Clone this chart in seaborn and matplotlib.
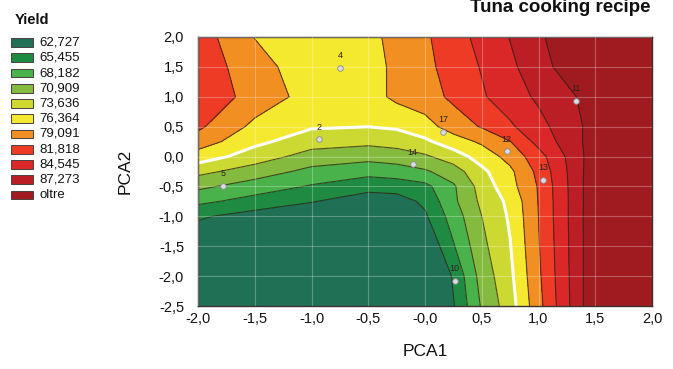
import numpy as np
import pandas as pd
import matplotlib
matplotlib.use("Agg")
import matplotlib.pyplot as plt
from matplotlib.patches import Rectangle
import seaborn as sns

# ---------------- data ----------------
pca1_grid = [-2.0, -1.5, -1.0, -0.5, -0.25, 0.0, 0.25, 0.5, 0.75, 1.0, 1.5, 2.0]
pca2_grid = [-2.5, -2.0, -1.5, -1.0, -0.75, -0.5, -0.25, 0.0, 0.25, 0.5, 1.0, 1.5, 2.0]

# yield read at grid nodes (one list per PCA2 row, PCA1 from -2 to 2)
yield_pca2_m2_50 = [59.0, 58.5, 58.0, 57.0, 57.0, 57.0, 62.5, 68.5, 72.4, 78.2, 89.7, 91.0]
yield_pca2_m2_00 = [59.5, 59.0, 58.5, 57.5, 57.5, 57.6, 63.1, 69.3, 73.0, 78.6, 89.6, 91.0]
yield_pca2_m1_50 = [60.5, 60.0, 59.0, 58.0, 58.5, 60.0, 65.2, 70.2, 73.5, 78.9, 89.5, 91.0]
yield_pca2_m1_00 = [63.1, 61.6, 60.5, 59.0, 60.0, 62.3, 66.7, 70.9, 74.0, 79.1, 89.5, 91.0]
yield_pca2_m0_75 = [66.1, 64.4, 62.9, 61.2, 61.4, 63.3, 67.6, 71.5, 74.3, 79.2, 89.4, 91.0]
yield_pca2_m0_50 = [68.8, 66.9, 65.2, 63.7, 64.0, 64.7, 67.8, 72.0, 75.4, 79.3, 89.4, 91.0]
yield_pca2_m0_25 = [71.7, 69.6, 67.4, 66.4, 66.8, 67.8, 69.6, 73.0, 75.8, 79.8, 89.2, 91.0]
yield_pca2_0_00 = [75.1, 72.3, 69.8, 69.1, 69.6, 70.5, 72.3, 74.8, 77.3, 80.7, 88.9, 91.0]
yield_pca2_0_25 = [77.8, 74.3, 72.1, 71.6, 72.0, 73.1, 75.1, 76.8, 79.0, 82.7, 88.6, 90.5]
yield_pca2_0_50 = [79.6, 75.7, 73.9, 73.65, 74.0, 75.3, 77.6, 79.3, 81.4, 83.65, 88.3, 90.5]
yield_pca2_1_00 = [81.2, 78.0, 75.3, 75.2, 77.0, 77.9, 79.65, 81.5, 83.3, 85.0, 88.4, 91.0]
yield_pca2_1_50 = [81.0, 77.3, 75.0, 75.4, 76.9, 78.4, 80.2, 82.0, 84.0, 86.1, 90.7, 91.5]
yield_pca2_2_00 = [80.5, 76.3, 75.0, 75.6, 77.2, 78.7, 80.6, 82.7, 84.65, 86.9, 90.2, 91.5]

level_bounds = [62.727, 65.455, 68.182, 70.909, 73.636, 76.364,
                79.091, 81.818, 84.545, 87.273]
legend_labels = ["62,727", "65,455", "68,182", "70,909", "73,636", "76,364",
                 "79,091", "81,818", "84,545", "87,273", "oltre"]
band_colors = ["#1f7055", "#1f8a42", "#4ab24a", "#84bb3e", "#cdd933",
               "#f5e92f", "#f28f22", "#ed3b26", "#da2828", "#bb1f25", "#a01b1f"]
white_level = 73.636

design_pca1 = [-0.75, -0.93, -1.78, -0.11, 0.16, 0.72, 1.04, 1.33, 0.26]
design_pca2 = [1.48, 0.29, -0.49, -0.13, 0.41, 0.09, -0.39, 0.93, -2.08]
design_labels = ["4", "2", "5", "14", "17", "12", "13", "11", "10"]

xtick_vals = [-2.0, -1.5, -1.0, -0.5, 0.0, 0.5, 1.0, 1.5, 2.0]
xtick_labels = ["-2,0", "-1,5", "-1,0", "-0,5", "-0,0", "0,5", "1,0", "1,5", "2,0"]
ytick_vals = [-2.5, -2.0, -1.5, -1.0, -0.5, 0.0, 0.5, 1.0, 1.5, 2.0]
ytick_labels = ["-2,5", "-2,0", "-1,5", "-1,0", "-0,5", "0,0", "0,5", "1,0", "1,5", "2,0"]

title = "Tuna cooking recipe"
legend_title = "Yield"
xlabel = "PCA1"
ylabel = "PCA2"

# ---------------- figure ----------------
sns.set_theme(style="white")
plt.rcParams["font.family"] = ["Liberation Sans", "DejaVu Sans"]

W, H = 673, 369
fig = plt.figure(figsize=(W / 100, H / 100), dpi=100)
fig.patch.set_facecolor("white")

L, R, T, B = 198, 652, 37, 306
ax = fig.add_axes([L / W, 1 - B / H, (R - L) / W, (B - T) / H])

Z = np.array([yield_pca2_m2_50, yield_pca2_m2_00, yield_pca2_m1_50, yield_pca2_m1_00,
              yield_pca2_m0_75, yield_pca2_m0_50, yield_pca2_m0_25, yield_pca2_0_00,
              yield_pca2_0_25, yield_pca2_0_50, yield_pca2_1_00, yield_pca2_1_50,
              yield_pca2_2_00])
X, Y = np.meshgrid(pca1_grid, pca2_grid)

fill_levels = [min(Z.min(), 50.0) - 1] + level_bounds + [max(Z.max(), 95.0) + 1]
ax.contourf(X, Y, Z, levels=fill_levels, colors=band_colors, zorder=1)
dark_levels = [v for v in level_bounds if v != white_level]
ax.contour(X, Y, Z, levels=dark_levels, colors="#2a2014", linewidths=0.8,
           alpha=0.75, zorder=2)
ax.contour(X, Y, Z, levels=[white_level], colors="white", linewidths=2.2, zorder=2)

ax.set_xlim(-2.0, 2.0)
ax.set_ylim(-2.5, 2.0)
ax.set_axisbelow(False)
ax.grid(True, color="white", alpha=0.28, linewidth=0.8)
ax.set_xticks(xtick_vals)
ax.set_xticklabels(xtick_labels)
ax.set_yticks(ytick_vals)
ax.set_yticklabels(ytick_labels)
ax.tick_params(axis="x", length=0, pad=4, labelsize=10.5, colors="#111111")
ax.tick_params(axis="y", length=0, pad=10, labelsize=10.5, colors="#111111")
for s in ax.spines.values():
    s.set_color("#3a3030")
    s.set_linewidth(1.0)

pts = pd.DataFrame({"PCA1": design_pca1, "PCA2": design_pca2, "lab": design_labels})
sns.scatterplot(data=pts, x="PCA1", y="PCA2", ax=ax, s=16, color="#dcdce4",
                edgecolor="#8a8a90", linewidth=0.6, zorder=4, legend=False)
for px_, py_, lb in zip(pts["PCA1"], pts["PCA2"], pts["lab"]):
    ax.annotate(lb, (px_, py_), xytext=(0, 5.5), textcoords="offset points",
                ha="center", va="bottom", fontsize=6.5, color="#2a2020", zorder=5)

ax.set_xlabel(xlabel, fontsize=12.5, color="#111111")
ax.set_ylabel(ylabel, fontsize=12.5, color="#111111")
ax.xaxis.set_label_coords(0.5, (B - 352) / (B - T))
ax.xaxis.label.set_va("center")
ax.yaxis.set_label_coords((125 - L) / (R - L), 0.5)
ax.yaxis.label.set_va("center")
ax.yaxis.label.set_ha("center")

# ---------------- legend (drawn in pixel space) ----------------
lax = fig.add_axes([0, 0, 1, 1], zorder=-1)
lax.set_xlim(0, W)
lax.set_ylim(H, 0)
lax.axis("off")
lax.text(15, 24, legend_title, fontsize=10.5, fontweight="bold", ha="left",
         va="baseline", color="#111111")
row0, step = 42.5, 15.25
for i, (lab, col) in enumerate(zip(legend_labels, band_colors)):
    yc = row0 + i * step
    lax.add_patch(Rectangle((11, yc - 4.3), 22, 8.6, facecolor=col,
                            edgecolor="#4a4040", linewidth=0.7))
    lax.text(39, yc, lab, fontsize=9.5, ha="left", va="center", color="#111111")

fig.text(650 / W, 1 - 12 / H, title, fontsize=13.5, fontweight="bold",
         ha="right", va="baseline", color="#111111")

fig.savefig("out.png", dpi=100, facecolor="white")
